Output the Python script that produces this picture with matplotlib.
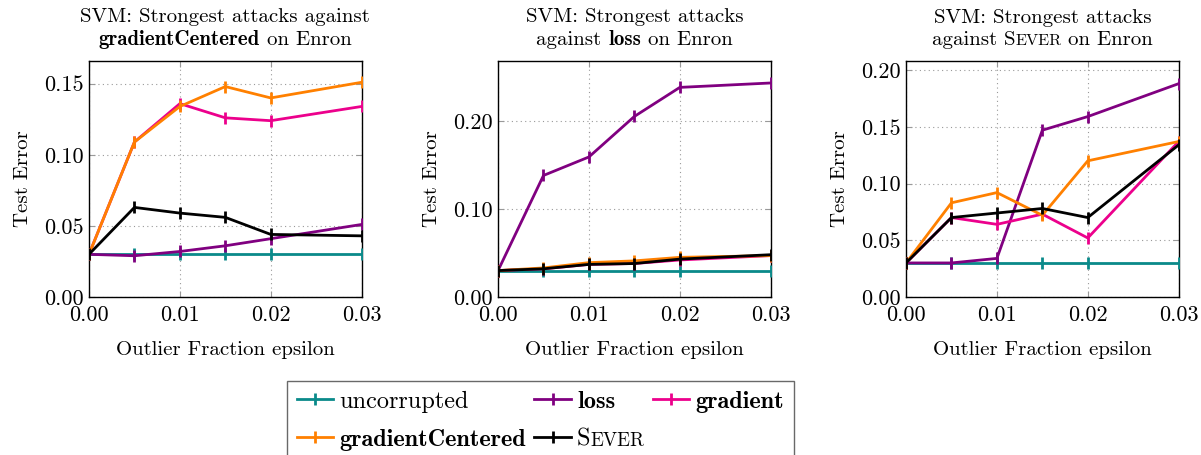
import matplotlib
matplotlib.use('Agg')
import matplotlib.pyplot as plt
from matplotlib.offsetbox import TextArea, HPacker, VPacker, AnchoredOffsetbox
import numpy as np

plt.rcParams['font.family'] = ['cmr10', 'DejaVu Serif']
plt.rcParams['axes.formatter.use_mathtext'] = True
plt.rcParams['mathtext.fontset'] = 'cm'

eps = [0.0, 0.005, 0.01, 0.015, 0.02, 0.03]

# panel 1: attacks against gradientCentered
p1_uncorrupted = [0.030, 0.030, 0.030, 0.030, 0.030, 0.030]
p1_loss = [0.030, 0.029, 0.032, 0.036, 0.041, 0.051]
p1_gradient = [0.030, 0.109, 0.136, 0.126, 0.124, 0.134]
p1_gradcent = [0.030, 0.109, 0.134, 0.148, 0.140, 0.151]
p1_sever = [0.030, 0.063, 0.059, 0.056, 0.044, 0.043]

# panel 2: attacks against loss
p2_uncorrupted = [0.030, 0.030, 0.030, 0.030, 0.030, 0.030]
p2_loss = [0.030, 0.138, 0.159, 0.205, 0.238, 0.243]
p2_gradient = [0.030, 0.032, 0.037, 0.038, 0.042, 0.047]
p2_gradcent = [0.030, 0.033, 0.039, 0.041, 0.045, 0.047]
p2_sever = [0.030, 0.032, 0.037, 0.038, 0.043, 0.048]

# panel 3: attacks against Sever
p3_uncorrupted = [0.030, 0.030, 0.030, 0.030, 0.030, 0.030]
p3_loss = [0.030, 0.030, 0.034, 0.147, 0.159, 0.188]
p3_gradient = [0.030, 0.070, 0.064, 0.073, 0.052, 0.137]
p3_gradcent = [0.030, 0.083, 0.092, 0.072, 0.120, 0.137]
p3_sever = [0.030, 0.070, 0.074, 0.078, 0.070, 0.134]

xticks = [0.0, 0.01, 0.02, 0.03]
yticks1 = [0.0, 0.05, 0.10, 0.15]
yticks2 = [0.0, 0.10, 0.20]
yticks3 = [0.0, 0.05, 0.10, 0.15, 0.20]

c_unc = '#0a8a8a'
c_loss = '#800080'
c_grad = '#ec008c'
c_gc = '#ff8000'
c_sev = 'black'

FS = 15
TFS = 16
LFS = 17.5
fig = plt.figure(figsize=(12.01, 4.55), dpi=100)

panels = [
    (0.0741, [p1_uncorrupted, p1_loss, p1_gradient, p1_gradcent, p1_sever], yticks1, 0.166,
     [('gradientCentered', 'bold'), (' on Enron', 'reg')], 'SVM: Strongest attacks against'),
    (0.4147, [p2_uncorrupted, p2_loss, p2_gradient, p2_gradcent, p2_sever], yticks2, 0.268,
     [('against ', 'reg'), ('loss', 'bold'), (' on Enron', 'reg')], 'SVM: Strongest attacks'),
    (0.7544, [p3_uncorrupted, p3_loss, p3_gradient, p3_gradcent, p3_sever], yticks3, 0.208,
     [('against ', 'reg'), ('S', 'reg'), ('EVER', 'sc'), (' on Enron', 'reg')], 'SVM: Strongest attacks'),
]

colors = [c_unc, c_loss, c_grad, c_gc, c_sev]
names = ['uncorrupted', 'loss', 'gradient', 'gradientCentered', 'Sever']
lines = {}

def piece(s, kind, size):
    if kind == 'bold':
        return TextArea(s, textprops=dict(family='cmb10', size=size))
    if kind == 'sc':
        return TextArea(s, textprops=dict(family='cmr10', size=size * 0.78))
    return TextArea(s, textprops=dict(family='cmr10', size=size))

for left, series, yt, ytop, line2, line1 in panels:
    ax = fig.add_axes([left, 0.3473, 0.2270, 0.5187])
    # order of drawing: uncorrupted, loss, gradient, gradientCentered, Sever
    for s, col, nm in zip(series, colors, names):
        ln, = ax.plot(eps, s, color=col, lw=2, marker='|', markersize=9, mew=2, zorder=3)
        lines[nm] = ln
    ax.set_xlim(0, 0.03)
    ax.set_ylim(0, ytop)
    ax.set_xticks(xticks)
    ax.set_xticklabels(['%.2f' % v for v in xticks])
    ax.set_yticks(yt)
    ax.set_yticklabels(['%.2f' % v for v in yt])
    ax.tick_params(direction='in', top=True, right=True, labelsize=TFS, color='#999999', length=4)
    ax.tick_params(axis='x', pad=6)
    ax.grid(True, linestyle=(0, (1, 3)), color='#999999', lw=0.8)
    ax.set_axisbelow(True)
    for sp in ax.spines.values():
        sp.set_linewidth(1.0)
    ax.set_xlabel('Outlier Fraction epsilon', fontsize=FS, labelpad=12)
    ax.set_ylabel('Test Error', fontsize=FS, labelpad=9)

    t1 = TextArea(line1, textprops=dict(family='cmr10', size=FS))
    t2 = HPacker(children=[piece(s, k, FS) for s, k in line2], pad=0, sep=0, align='baseline')
    box = VPacker(children=[t1, t2], pad=0, sep=3, align='center')
    ab = AnchoredOffsetbox(loc='lower center', child=box, pad=0, frameon=False,
                           bbox_to_anchor=(0.5, 1.05), bbox_transform=ax.transAxes, borderpad=0)
    ax.add_artist(ab)

order = ['uncorrupted', 'gradientCentered', 'loss', 'Sever', 'gradient']
leg = fig.legend([lines[n] for n in order], ['uncorrupted', 'gradientCentered', 'loss', 'S', 'gradient'],
                 ncol=3, loc='upper left', bbox_to_anchor=(287 / 1201, 1 - 381 / 455),
                 borderaxespad=0, fontsize=LFS, frameon=True, fancybox=False, edgecolor='#444444',
                 handlelength=1.5, handletextpad=0.25, columnspacing=0.35, labelspacing=0.65,
                 borderpad=0.4)
leg.get_frame().set_linewidth(1.0)
for t in leg.get_texts():
    if t.get_text() in ('gradientCentered', 'loss', 'gradient'):
        t.set_fontfamily('cmb10')

# small caps for Sever entry
col2 = leg._legend_handle_box.get_children()[1]
entry = col2.get_children()[1]
kids = entry.get_children()
kids[1] = HPacker(children=[TextArea('S', textprops=dict(family='cmr10', size=LFS)),
                            TextArea('EVER', textprops=dict(family='cmr10', size=LFS * 0.78))],
                  pad=0, sep=0, align='baseline')
leg._legend_box.set_figure(fig)

fig.savefig('out.png', dpi=100)
